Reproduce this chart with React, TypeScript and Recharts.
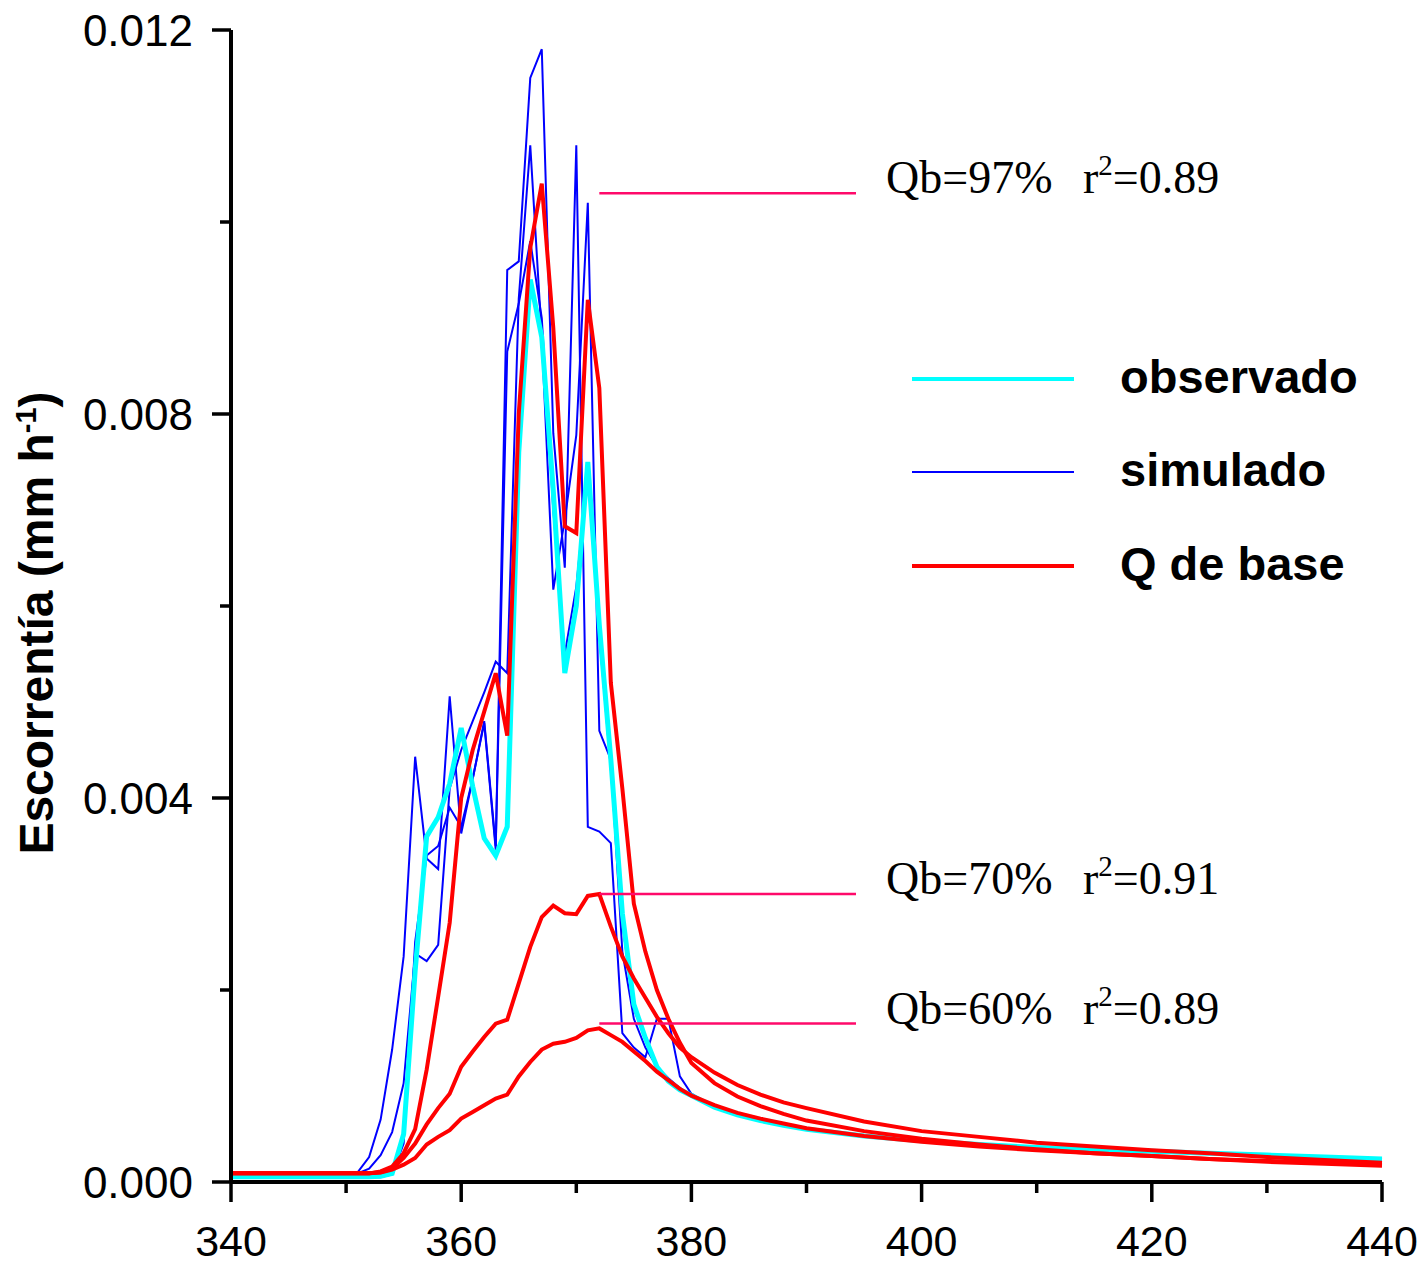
import React from 'react';
import { LineChart, Line, XAxis, YAxis, Legend } from 'recharts';

// horas (eje x)
const hours = [
  340, 345, 350, 351, 352, 353, 354, 355, 356, 357, 358, 359, 360, 361, 362, 363,
  364, 365, 366, 367, 368, 369, 370, 371, 372, 373, 374, 375, 376, 377, 378, 379,
  380, 382, 384, 386, 388, 390, 395, 400, 405, 410, 415, 420, 425, 430, 435, 440,
];

// escorrentía observada
const observado = [
  0.000055, 0.000055, 0.000055, 0.000055, 0.000055, 0.00006, 0.00009, 0.0005, 0.0022, 0.0036, 0.0038, 0.00415, 0.00473, 0.00412, 0.00358, 0.0034,
  0.0037, 0.0076, 0.0094, 0.0088, 0.0072, 0.0053, 0.006, 0.0075, 0.0058, 0.0044, 0.0028, 0.00185, 0.0015, 0.0012, 0.00105, 0.00096,
  0.0009, 0.00078, 0.0007, 0.00064, 0.00059, 0.00055, 0.00048, 0.00043, 0.00039, 0.00036, 0.00034, 0.00032, 0.0003, 0.00028, 0.00026, 0.00024,
];

// simulado, tres corridas
const simulado1 = [
  0.00009, 0.00009, 0.00009, 0.0001, 0.00026, 0.00065, 0.00138, 0.00235, 0.00443, 0.00337, 0.00326, 0.00506, 0.00363, 0.0042, 0.00478, 0.00346,
  0.0095, 0.00959, 0.0115, 0.0118, 0.0078, 0.0064, 0.0108, 0.0037, 0.00365, 0.00353, 0.00155, 0.0014, 0.0013, 0.0017, 0.0017, 0.0011,
  0.00092, 0.00078, 0.0007, 0.00064, 0.00059, 0.00055, 0.00048, 0.00043, 0.00039, 0.00036, 0.00034, 0.00032, 0.0003, 0.00028, 0.00026, 0.00024,
];
const simulado2 = [
  0.00009, 0.00009, 0.00009, 0.00009, 0.00014, 0.00028, 0.00052, 0.00103, 0.00238, 0.0023, 0.00247, 0.0041, 0.0045, 0.0048, 0.0051, 0.00542,
  0.0053, 0.0092, 0.0108, 0.0088, 0.00617, 0.0069, 0.00778, 0.0102, 0.0047, 0.0044, 0.0024, 0.0017, 0.0014, 0.0012, 0.00108, 0.00098,
  0.0009, 0.00078, 0.0007, 0.00064, 0.00059, 0.00055, 0.00048, 0.00043, 0.00039, 0.00036, 0.00034, 0.00032, 0.0003, 0.00028, 0.00026, 0.00024,
];
const simulado3 = [
  0.00005, 0.00005, 0.00005, 0.00005, 0.00005, 0.00005, 0.00008, 0.0004, 0.0025, 0.0034, 0.0035, 0.0039, 0.0037, 0.0042, 0.0048, 0.0035,
  0.00865, 0.00915, 0.0098, 0.009, 0.007, 0.0055, 0.0062, 0.0074, 0.0057, 0.0043, 0.0027, 0.0018, 0.0015, 0.0012, 0.00105, 0.00096,
  0.0009, 0.00078, 0.0007, 0.00064, 0.00059, 0.00055, 0.00048, 0.00043, 0.00039, 0.00036, 0.00034, 0.00032, 0.0003, 0.00028, 0.00026, 0.00024,
];

// caudal de base
const base97 = [
  0.00009, 0.00009, 0.00009, 0.00009, 0.00009, 0.00011, 0.00016, 0.0003, 0.00055, 0.00117, 0.00193, 0.0027, 0.004, 0.0045, 0.0049, 0.0053,
  0.00465, 0.008, 0.00973, 0.0104, 0.0089, 0.00683, 0.00676, 0.00919, 0.00827, 0.0052, 0.0041, 0.0029, 0.0024, 0.002, 0.0017, 0.00145,
  0.00124, 0.00103, 0.00089, 0.00079, 0.00071, 0.00064, 0.00053, 0.00045, 0.00039, 0.00034, 0.0003, 0.00027, 0.00024, 0.00021, 0.00019, 0.00017,
];
const base70 = [
  0.00009, 0.00009, 0.00009, 0.00009, 0.00009, 0.0001, 0.00014, 0.00025, 0.0004, 0.0006, 0.00077, 0.00092, 0.0012, 0.00136, 0.00151, 0.00165,
  0.00169, 0.00207, 0.00245, 0.00276, 0.00288, 0.0028, 0.00279, 0.00298, 0.003, 0.00266, 0.00235, 0.00212, 0.00192, 0.00172, 0.00155, 0.0014,
  0.0013, 0.00114, 0.00101, 0.00091, 0.00083, 0.00077, 0.00063, 0.00053, 0.00047, 0.00041, 0.00037, 0.00033, 0.0003, 0.00026, 0.00023, 0.0002,
];
const base60 = [
  0.00009, 0.00009, 0.00009, 0.00009, 0.00009, 0.0001, 0.00013, 0.00018, 0.00025, 0.00039, 0.00047, 0.00054, 0.00066, 0.00073, 0.0008, 0.00087,
  0.00091, 0.0011, 0.00125, 0.00138, 0.00144, 0.00146, 0.0015, 0.00158, 0.0016, 0.00153, 0.00146, 0.00136, 0.00126, 0.00115, 0.00106, 0.00097,
  0.0009, 0.0008, 0.00072, 0.00066, 0.00061, 0.00056, 0.00048, 0.00042, 0.00037, 0.00033, 0.0003, 0.00027, 0.00024, 0.00022, 0.0002, 0.00018,
];

// marcas de Qb
const markX = [372, 394.3];
const markY = [0.0103, 0.003, 0.00165];
const markQb = ['Qb=97%', 'Qb=70%', 'Qb=60%'];
const markR2 = ['0.89', '0.91', '0.89'];

const xTicks = [340, 350, 360, 370, 380, 390, 400, 410, 420, 430, 440];
const yTicks = [0, 0.002, 0.004, 0.006, 0.008, 0.01, 0.012];

const rows = hours.map((h, i) => ({
  h,
  obs: observado[i],
  s1: simulado1[i],
  s2: simulado2[i],
  s3: simulado3[i],
  b97: base97[i],
  b70: base70[i],
  b60: base60[i],
}));

const SANS = '"Liberation Sans", Arial, sans-serif';
const SERIF = '"Liberation Serif", "Times New Roman", serif';

const XTick = ({ x, y, payload }: any) => {
  const major = payload.value % 20 === 0;
  return (
    <g>
      <line x1={x} x2={x} y1={y} y2={y + (major ? 20 : 11)} stroke="#000" strokeWidth={3.5} />
      {major && (
        <text x={x} y={y + 74} textAnchor="middle" fontSize={43} fontFamily={SANS} fill="#000">
          {payload.value}
        </text>
      )}
    </g>
  );
};

const YTick = ({ x, y, payload }: any) => {
  const major = Math.round(payload.value * 1000) % 4 === 0;
  return (
    <g>
      <line x1={x} x2={x - (major ? 19 : 11)} y1={y} y2={y} stroke="#000" strokeWidth={3.5} />
      {major && (
        <text x={x - 38} y={y + 16} textAnchor="end" fontSize={44} fontFamily={SANS} fill="#000">
          {payload.value.toFixed(3)}
        </text>
      )}
    </g>
  );
};

const renderLegend = () => {
  const items = [
    { label: 'observado', color: '#00ffff', w: 4, y: 49 },
    { label: 'simulado', color: '#0000ff', w: 2, y: 142 },
    { label: 'Q de base', color: '#ff0000', w: 4, y: 236 },
  ];
  return (
    <svg width={520} height={260}>
      {items.map((it) => (
        <g key={it.label}>
          <line x1={12} x2={174} y1={it.y} y2={it.y} stroke={it.color} strokeWidth={it.w} />
          <text x={220} y={it.y + 14} fontSize={47} fontWeight="bold" fontFamily={SANS} fill="#000">
            {it.label}
          </text>
        </g>
      ))}
    </svg>
  );
};

const App: React.FC = () => {
  const lineProps = { dot: false, isAnimationActive: false, strokeLinejoin: 'miter' as const, legendType: 'none' as const };
  return (
    <div style={{ position: 'absolute', left: 0, top: 0, width: 1424, height: 1265, background: '#fff' }}>
      <LineChart width={1424} height={1265} data={rows} margin={{ top: 30, right: 42, bottom: 0, left: 0 }}>
        <XAxis
          dataKey="h"
          type="number"
          domain={[340, 440]}
          ticks={xTicks}
          interval={0}
          height={83}
          tickSize={0}
          tickMargin={0}
          tick={<XTick />}
          axisLine={{ stroke: '#000', strokeWidth: 4 }}
          tickLine={false}
        />
        <YAxis
          type="number"
          domain={[0, 0.012]}
          ticks={yTicks}
          interval={0}
          width={231}
          tickSize={0}
          tickMargin={0}
          tick={<YTick />}
          axisLine={{ stroke: '#000', strokeWidth: 4 }}
          tickLine={false}
        />
        <Line dataKey="s3" stroke="#0000ff" strokeWidth={2} {...lineProps} />
        <Line dataKey="s2" stroke="#0000ff" strokeWidth={2} {...lineProps} />
        <Line dataKey="s1" stroke="#0000ff" strokeWidth={2} {...lineProps} />
        <Line dataKey="obs" stroke="#00ffff" strokeWidth={5} {...lineProps} />
        <Line dataKey="b60" stroke="#ff0000" strokeWidth={4} {...lineProps} />
        <Line dataKey="b70" stroke="#ff0000" strokeWidth={4} {...lineProps} />
        <Line dataKey="b97" stroke="#ff0000" strokeWidth={4} {...lineProps} />
        {markY.map((v, i) => (
          <Line
            key={`mark-${i}`}
            data={markX.map((h) => ({ h, v }))}
            dataKey="v"
            stroke="#ff0a6a"
            strokeWidth={2.5}
            {...lineProps}
          />
        ))}
        <Legend
          layout="vertical"
          align="center"
          verticalAlign="middle"
          content={renderLegend}
          wrapperStyle={{ left: 900, top: 330, width: 520, height: 260 }}
        />
      </LineChart>
      <svg width={1424} height={1265} style={{ position: 'absolute', left: 0, top: 0, pointerEvents: 'none' }}>
        {[193, 894, 1024].map((y, i) => (
          <g key={`lab-${i}`} fontFamily={SERIF} fontSize={46} fill="#000">
            <text x={886} y={y}>{markQb[i]}</text>
            <text x={1083} y={y}>
              r<tspan dy={-18} fontSize={29}>2</tspan>
              <tspan dy={18}>={markR2[i]}</tspan>
            </text>
          </g>
        ))}
        <text
          transform="translate(53,623) rotate(-90)"
          textAnchor="middle"
          fontSize={48}
          fontWeight="bold"
          fontFamily={SANS}
          fill="#000"
        >
          Escorrentía (mm h<tspan dy={-17} fontSize={29}>-1</tspan>
          <tspan dy={17}>)</tspan>
        </text>
      </svg>
    </div>
  );
};

export default App;
